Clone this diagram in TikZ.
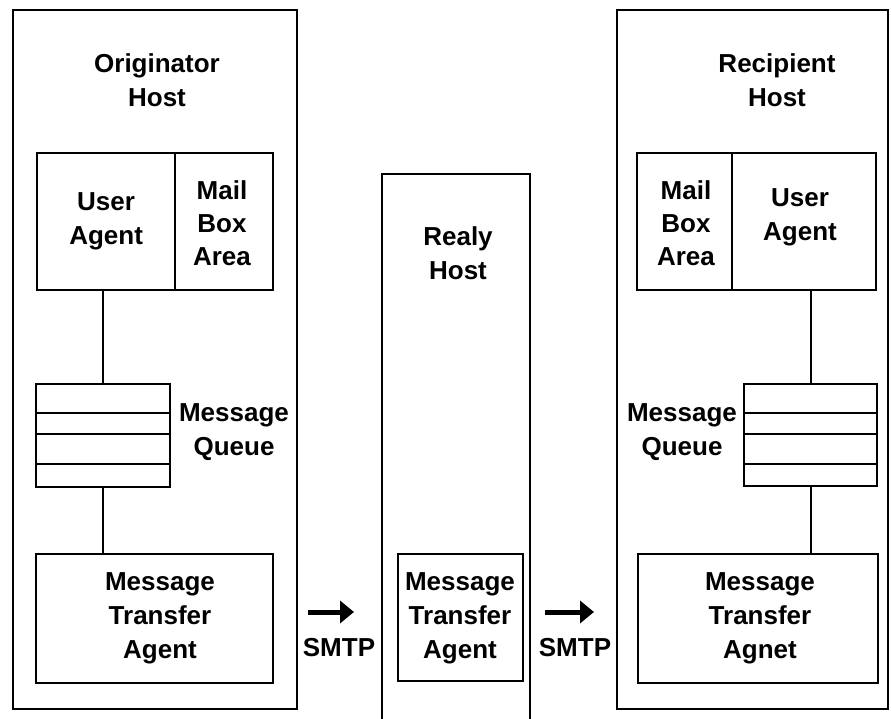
\documentclass[tikz,border=0pt]{standalone}
\usepackage{fontspec}
\setmainfont{Liberation Sans}
\usetikzlibrary{arrows.meta}
\begin{document}
\begin{tikzpicture}[x=1pt,y=-1pt,
  box/.style={draw, line width=2.2pt, rectangle, inner sep=0pt, anchor=north west},
  lbl/.style={align=center, inner sep=0pt, font=\fontsize{26}{34}\selectfont\bfseries},
  conn/.style={line width=2.2pt},
  flow/.style={line width=5pt, -{Triangle[length=14pt,width=22pt]}}]
\useasboundingbox (0,0) rectangle (891,719);
\fill[white] (0,0) rectangle (891,719);

% ---------- Originator host ----------
\node[box, minimum width=284pt, minimum height=699pt] (oh) at (12,9) {};
\node[lbl] (ohl) at (157,80) {Originator\\Host};
\node[box, minimum width=138pt, minimum height=137pt] (ua1) at (36,152) {};
\node[box, minimum width=98pt, minimum height=137pt] (mb1) at (174,152) {};
\node[lbl] (ua1t) at (ua1.center) {User\\Agent};
\node[lbl, font=\fontsize{26}{33}\selectfont\bfseries] (mb1t) at (222,223) {Mail\\Box\\Area};
\node[box, minimum width=134pt, minimum height=103pt] (q1) at (35,383) {};
\draw[conn] ([yshift=-30pt]q1.north west) -- ([yshift=-30pt]q1.north east);
\draw[conn] ([yshift=-51pt]q1.north west) -- ([yshift=-51pt]q1.north east);
\draw[conn] ([yshift=-81pt]q1.north west) -- ([yshift=-81pt]q1.north east);
\node[lbl] (q1t) at (234,432) {Message\\Queue};
\node[box, minimum width=237pt, minimum height=129pt] (mta1) at (35,553) {};
\node[lbl] (mta1t) at (160,618) {Message\\Transfer\\Agent};
\draw[conn] (q1.north) -- (q1.north |- ua1.south);
\draw[conn] (q1.south) -- (q1.south |- mta1.north);

% ---------- arrow 1 ----------
\coordinate (a1s) at (308,612);
\coordinate (a1e) at (354,612);
\draw[flow] (a1s) -- (a1e);
\node[lbl] (smtp1) at (339,648) {SMTP};

% ---------- Relay host ----------
\coordinate (rbl) at (382,719);
\coordinate (rtl) at (382,174);
\coordinate (rtr) at (530,174);
\coordinate (rbr) at (530,719);
\draw[line width=2.2pt] (rbl) -- (rtl) -- (rtr) -- (rbr);
\node[lbl] (rhl) at (458,253) {Realy\\Host};
\node[box, minimum width=125pt, minimum height=127pt] (mta2) at (397,553) {};
\node[lbl] (mta2t) at (460,618) {Message\\Transfer\\Agent};

% ---------- arrow 2 ----------
\coordinate (a2s) at (545,612);
\coordinate (a2e) at (594,612);
\draw[flow] (a2s) -- (a2e);
\node[lbl] (smtp2) at (575,648) {SMTP};

% ---------- Recipient host ----------
\node[box, minimum width=271pt, minimum height=699pt] (rh) at (616,9) {};
\node[lbl] (rhl2) at (777,80) {Recipient\\Host};
\node[box, minimum width=95pt, minimum height=137pt] (mb2) at (636,152) {};
\node[box, minimum width=144pt, minimum height=137pt] (ua2) at (731,152) {};
\node[lbl, font=\fontsize{26}{33}\selectfont\bfseries] (mb2t) at (686,223) {Mail\\Box\\Area};
\node[lbl] (ua2t) at (800,217) {User\\Agent};
\node[box, minimum width=133pt, minimum height=102pt] (q2) at (743,383) {};
\draw[conn] ([yshift=-30pt]q2.north west) -- ([yshift=-30pt]q2.north east);
\draw[conn] ([yshift=-51pt]q2.north west) -- ([yshift=-51pt]q2.north east);
\draw[conn] ([yshift=-81pt]q2.north west) -- ([yshift=-81pt]q2.north east);
\node[lbl] (q2t) at (682,432) {Message\\Queue};
\node[box, minimum width=240pt, minimum height=129pt] (mta3) at (637,553) {};
\node[lbl] (mta3t) at (760,618) {Message\\Transfer\\Agnet};
\draw[conn] (q2.north) -- (q2.north |- ua2.south);
\draw[conn] (q2.south) -- (q2.south |- mta3.north);
\end{tikzpicture}
\end{document}
